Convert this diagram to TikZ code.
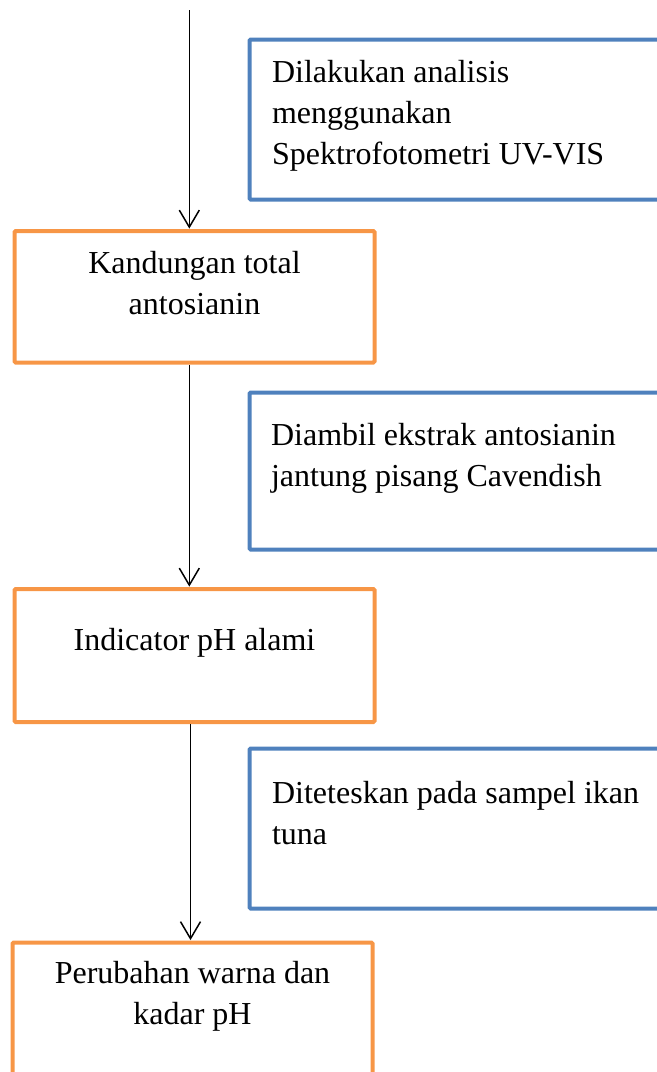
\documentclass[tikz,border=0pt]{standalone}
\usepackage{fontspec}
\setmainfont{Liberation Serif}
\usetikzlibrary{positioning,arrows.meta}
\definecolor{boxorange}{RGB}{247,150,70}
\definecolor{boxblue}{RGB}{79,129,189}

\begin{document}
\begin{tikzpicture}[x=0.5pt,y=-0.5pt]

  \tikzstyle{result} = [draw=boxorange, rectangle, line width=2pt, outer sep=0pt, minimum width=180pt, anchor=north west, rounded corners=0.6pt]
  \tikzstyle{action} = [draw=boxblue, rectangle, line width=2pt, outer sep=0pt, minimum width=216pt, anchor=north west, rounded corners=0.6pt]
  \tikzstyle{boxtext} = [inner sep=0pt, font=\fontsize{16}{20.5}\selectfont]
  \tikzstyle{flow} = [-{Straight Barb[length=8.5pt,width=10pt]}, line width=0.75pt, color=black!100, shorten <=1.2pt, shorten >=1.2pt]

  \path[use as bounding box, clip] (0,0) rectangle (657,1072);

  % blue boxes: what is done
  \node[action, minimum height=80pt] (uvvis) at (249.5,39.5) {};
  \node[action, minimum height=78.5pt] (ekstrak) at (249.5,392.5) {};
  \node[action, minimum height=80pt] (tetes) at (249.5,748.5) {};

  % orange boxes: what comes out
  \node[result, minimum height=65.75pt] (kandungan) at (14.5,231) {};
  \node[result, minimum height=66.5pt] (indikator) at (14.5,589) {};
  \node[result, minimum height=80pt] (perubahan) at (12.5,942.5) {};

  % texts, placed on the baseline of their last line
  \node[boxtext, anchor=base west, align=left] (uvvisText) at (271.7,164) {Dilakukan analisis\\menggunakan\\Spektrofotometri UV-VIS};
  \node[boxtext, anchor=base west, align=left] (ekstrakText) at (270.7,486) {Diambil ekstrak antosianin\\jantung pisang Cavendish};
  \node[boxtext, anchor=base west, align=left] (tetesText) at (271.7,844) {Diteteskan pada sampel ikan\\tuna};

  \node[boxtext, anchor=base, align=center] (kandunganText) at (194.5,314) {Kandungan total\\antosianin};
  \node[boxtext, anchor=base, align=center] (indikatorText) at (194.5,650.7) {Indicator pH alami};
  \node[boxtext, anchor=base, align=center] (perubahanText) at (192.5,1024) {Perubahan warna dan\\kadar pH};

  \coordinate (start) at (189.3,10);

  \draw[flow, shorten <=0pt] (start) -- (start |- kandungan.north);
  \draw[flow] ([xshift=-2.6pt]kandungan.south) -- ([xshift=-2.6pt]indikator.north);
  \draw[flow] ([xshift=-2pt]indikator.south) -- ([xshift=-1pt]perubahan.north);

\end{tikzpicture}
\end{document}
